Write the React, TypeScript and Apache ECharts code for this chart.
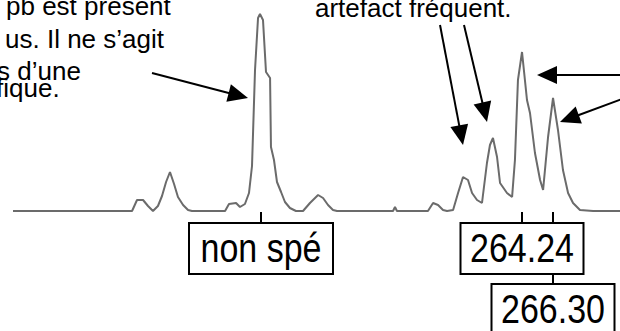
import React, { useEffect, useRef } from "react";
import * as echarts from "echarts";

// Fragment size (bp) and signal (RFU)
const sizesBp = [
  230.42, 238.33, 238.66, 239.06, 239.39, 239.72, 240.05, 240.32, 240.59, 240.85,
  241.12, 241.38, 241.72, 242.05, 242.31, 244.51, 244.77, 245.24, 245.5, 245.83,
  246.1, 246.3, 246.5, 246.7, 246.83, 247.03, 247.23, 247.5, 247.56, 247.76,
  247.96, 248.23, 248.49, 248.82, 249.22, 249.69, 250.15, 250.69, 251.02, 251.35,
  251.68, 251.95, 255.67, 255.8, 255.93, 257.99, 258.33, 258.66, 258.99, 259.26,
  259.66, 259.99, 260.32, 260.65, 260.92, 261.25, 261.58, 261.91, 262.11, 262.31,
  262.58, 262.78, 263.24, 263.58, 263.77, 263.97, 264.24, 264.57, 264.77, 265.1,
  265.44, 265.64, 265.97, 266.3, 266.63, 266.96, 267.3, 267.63, 268.09, 268.96,
  270.75,
];
const rfu = [
  0, 0, 110, 110, 50, 0, 50, 150, 290, 390,
  270, 140, 60, 10, 0, 0, 70, 80, 40, 70,
  180, 450, 1410, 1930, 1970, 1910, 1390, 1330, 640, 510,
  290, 190, 90, 30, 0, 0, 80, 160, 130, 60,
  10, 0, 0, 40, 0, 0, 80, 60, 10, 0,
  10, 180, 340, 310, 180, 110, 80, 480, 660, 730,
  540, 280, 180, 140, 510, 1310, 1590, 1110, 980, 580,
  310, 210, 740, 1130, 810, 410, 180, 80, 10, 0,
  0,
];

// Peak labels
const labelTexts = ["non spé", "264.24", "266.30"];
const labelSizes = [246.9, 264.24, 266.3];
const labelRows = [0, 0, 1];

// Annotation texts
const noteLeft = ["pb est présent", "us. Il ne s\u2019agit", "s d\u2019une", "fique."];
const noteRight = ["artefact fréquent."];

function arrow(x1: number, y1: number, x2: number, y2: number) {
  const dx = x2 - x1;
  const dy = y2 - y1;
  const L = Math.hypot(dx, dy);
  const ux = dx / L;
  const uy = dy / L;
  const hl = 20;
  const hw = 9;
  const bx = x2 - ux * hl;
  const by = y2 - uy * hl;
  return [
    { type: "line", silent: true, shape: { x1, y1, x2: bx + ux * 2, y2: by + uy * 2 }, style: { stroke: "#000", lineWidth: 2 } },
    {
      type: "polygon",
      silent: true,
      shape: { points: [[x2, y2], [bx - uy * hw, by + ux * hw], [bx + uy * hw, by - ux * hw]] },
      style: { fill: "#000" },
    },
  ];
}

export default function App() {
  const ref = useRef<HTMLDivElement>(null);
  useEffect(() => {
    const chart = echarts.init(ref.current!, null, { renderer: "svg" });
    chart.setOption({
      animation: false,
      grid: { left: 13, right: 0, top: 0, bottom: 120 },
      xAxis: { type: "value", min: 230.42, max: 270.75, show: false },
      yAxis: { type: "value", min: 0, max: 2110, show: false },
      series: [
        {
          type: "line",
          data: sizesBp.map((x, i) => [x, rfu[i]]),
          showSymbol: false,
          silent: true,
          lineStyle: { color: "#6b6b6b", width: 2 },
        },
      ],
    });

    const base = chart.convertToPixel({ gridIndex: 0 }, [labelSizes[0], 0]) as number[];
    const baseY = base[1];
    const els: any[] = [];
    const boxW = [144, 123, 123];
    const rowTop = [223, 284];
    const boxH = 51;
    labelTexts.forEach((t, i) => {
      const p = chart.convertToPixel({ gridIndex: 0 }, [labelSizes[i], 0]) as number[];
      const cx = Math.round(p[0]);
      const row = labelRows[i];
      const top = rowTop[row];
      els.push({ type: "line", silent: true, shape: { x1: cx, y1: baseY + 1, x2: cx, y2: rowTop[0] }, style: { stroke: "#000", lineWidth: 2 } });
      if (row > 0) {
        els.push({ type: "line", silent: true, shape: { x1: cx, y1: rowTop[0] + boxH, x2: cx, y2: top }, style: { stroke: "#000", lineWidth: 2 } });
      }
      els.push({
        type: "rect",
        silent: true,
        shape: { x: cx - boxW[i] / 2, y: top, width: boxW[i], height: boxH + (row > 0 ? 20 : 0) },
        style: { fill: "#fff", stroke: "#000", lineWidth: 2 },
        z: 10,
      });
      els.push({
        type: "text",
        silent: true,
        x: cx,
        y: top + 25,
        scaleY: 1.2,
        style: {
          text: t,
          fill: "#000",
          font: '34px "Liberation Sans", Arial, sans-serif',
          align: "center",
          verticalAlign: "middle",
        },
        z: 11,
      });
    });

    const leftY = [5.5, 38.5, 70.5, 87.5];
    const leftX = [6, 5, -3, -4];
    noteLeft.forEach((t, i) => {
      els.push({
        type: "text",
        silent: true,
        x: leftX[i],
        y: leftY[i],
        style: { text: t, fill: "#000", font: '26px "Liberation Sans", Arial, sans-serif', align: "left", verticalAlign: "middle" },
      });
    });
    noteRight.forEach((t) => {
      els.push({
        type: "text",
        silent: true,
        x: 315,
        y: 7.5,
        style: { text: t, fill: "#000", font: '26px "Liberation Sans", Arial, sans-serif', align: "left", verticalAlign: "middle" },
      });
    });

    els.push(...arrow(152, 73, 248, 98));
    els.push(...arrow(440, 25, 463, 145));
    els.push(...arrow(464, 25, 487, 122));
    els.push(...arrow(622, 75, 537, 75));
    els.push(...arrow(622, 99, 560, 122));

    chart.setOption({ graphic: els });
    return () => chart.dispose();
  }, []);
  return <div ref={ref} style={{ position: "absolute", left: 0, top: 0, width: 620, height: 331 }} />;
}
